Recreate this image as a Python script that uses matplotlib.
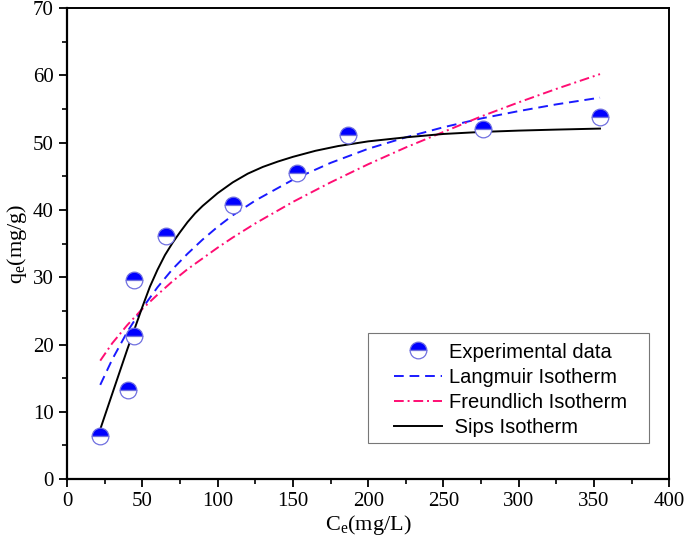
import matplotlib
matplotlib.use("Agg")
import matplotlib.pyplot as plt
from matplotlib.patches import Rectangle
from matplotlib.ticker import MultipleLocator

# experimental points
ce_exp = [22, 40.3, 44.3, 44.3, 65.6, 110.5, 152.6, 186.3, 276.2, 353.9]
qe_exp = [6.4, 13.3, 29.6, 21.2, 36.1, 40.7, 45.5, 51.1, 52.0, 53.8]

# model curves
ce_fit = [22, 30, 40, 50, 60, 70, 80, 90, 100, 110, 125, 150, 175, 200,
          225, 250, 275, 300, 325, 354]
q_langmuir = [14.0, 17.8, 21.9, 25.4, 28.5, 31.2, 33.5, 35.6, 37.5, 39.2,
              41.4, 44.5, 47.0, 49.1, 50.8, 52.3, 53.6, 54.7, 55.7, 56.7]
q_freundlich = [17.6, 20.2, 22.9, 25.3, 27.4, 29.4, 31.2, 32.8, 34.4, 35.9,
                38.0, 41.2, 44.1, 46.8, 49.3, 51.6, 53.9, 56.0, 58.0, 60.2]

ce_sips = [22, 30, 40, 50, 55, 60, 65, 70, 75, 80, 85, 90, 100, 110, 120,
           130, 140, 150, 165, 180, 200, 225, 250, 275, 300, 325, 354]
q_sips = [7.4, 12.7, 19.3, 25.6, 28.6, 31.1, 33.3, 35.1, 36.7, 38.2, 39.5,
          40.6, 42.5, 44.1, 45.4, 46.4, 47.2, 47.9, 48.8, 49.5, 50.2, 50.8,
          51.3, 51.6, 51.8, 51.95, 52.1]

fig = plt.figure(figsize=(6.85, 5.45), dpi=100)
ax = fig.add_axes([0.098, 0.121, 0.879, 0.864])

ax.plot(ce_fit, q_langmuir, color="#1a1aff", lw=1.4, ls=(0, (5, 3)),
        label="Langmuir Isotherm")
ax.plot(ce_fit, q_freundlich, color="#ff0d73", lw=1.4,
        ls=(0, (5, 2, 1, 2)), label="Freundlich Isotherm")
ax.plot(ce_sips, q_sips, color="black", lw=1.4, label=" Sips Isotherm")
ax.plot(ce_exp, qe_exp, ls="none", marker="o", ms=12, fillstyle="top",
        markerfacecolor="#0000ff", markerfacecoloralt="white",
        markeredgecolor="#7070e0", markeredgewidth=0.9,
        label="Experimental data", zorder=5)

ax.set_xlim(0, 400)
ax.set_ylim(0, 70)
ax.xaxis.set_major_locator(MultipleLocator(50))
ax.xaxis.set_minor_locator(MultipleLocator(25))
ax.yaxis.set_major_locator(MultipleLocator(10))
ax.yaxis.set_minor_locator(MultipleLocator(5))
ax.tick_params(which="major", direction="out", length=6, width=1.3,
               labelsize=15)
ax.tick_params(which="minor", direction="out", length=3.5, width=1.2)
for lab in ax.get_xticklabels() + ax.get_yticklabels():
    lab.set_fontfamily("Liberation Serif")
for side in ["left", "bottom"]:
    ax.spines[side].set_linewidth(1.6)
for side in ["top", "right"]:
    ax.spines[side].set_linewidth(1.4)

ax.set_xlabel(r"C$_\mathregular{e}$(mg/L)", fontsize=16,
              fontfamily="Liberation Serif", labelpad=1)
ax.set_ylabel(r"q$_\mathregular{e}$(mg/g)", fontsize=16,
              fontfamily="Liberation Serif", labelpad=3)

# legend box drawn separately (wider side padding than matplotlib's)
ax.add_patch(Rectangle((0.5, 0.076), 0.467, 0.234, transform=ax.transAxes,
                       facecolor="white", edgecolor="#777777", lw=0.8,
                       zorder=6))
h, l = ax.get_legend_handles_labels()
order = [3, 0, 1, 2]
leg = ax.legend([h[i] for i in order], [l[i] for i in order],
                loc="center", bbox_to_anchor=(0.736, 0.19),
                prop={"family": "Liberation Sans", "size": 14.5},
                frameon=False, handlelength=2.4, handletextpad=0.35,
                labelspacing=0.3, borderpad=0.2)
leg.set_zorder(7)

fig.savefig("out.png", dpi=100)
